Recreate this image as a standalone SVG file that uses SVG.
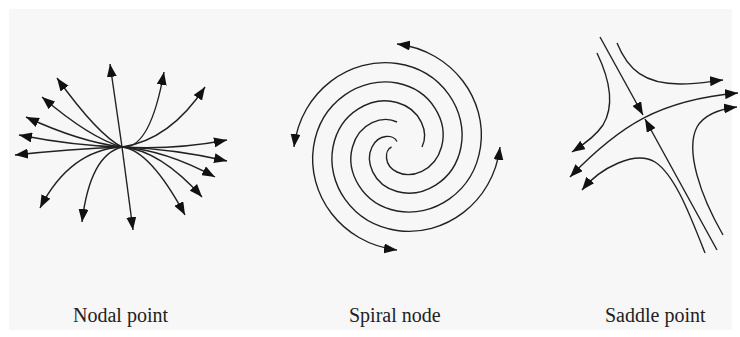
<svg xmlns="http://www.w3.org/2000/svg" width="740" height="337" viewBox="0 0 740 337">
<style>
.c{fill:none;stroke:#222;stroke-width:1.4;marker-end:url(#ah)}
.t{font-family:"Liberation Serif","Times New Roman",serif;font-size:20px;fill:#222}
</style>
<defs>
<marker id="ah" markerUnits="userSpaceOnUse" markerWidth="14" markerHeight="10" refX="13" refY="5" orient="auto"><path d="M0,0 L13,5 L0,10 z" fill="#111"/></marker>
<marker id="ahs" markerUnits="userSpaceOnUse" markerWidth="14" markerHeight="10" refX="13" refY="5" orient="auto-start-reverse"><path d="M0,0 L13,5 L0,10 z" fill="#111"/></marker>
</defs>
<rect width="740" height="337" fill="#fff"/>
<rect x="9" y="9" width="723" height="321" fill="#f7f7f7"/>
<g id="nodal">
<path class="c" d="M122,147 L110,64"/>
<path class="c" d="M122,147 L133,230"/>
<path class="c" d="M122,147 Q98,135 57,78"/>
<path class="c" d="M122,147 Q90,138 42,97"/>
<path class="c" d="M122,147 Q80,142 26,117"/>
<path class="c" d="M122,147 Q75,146 19,135"/>
<path class="c" d="M122,147 Q70,149 15,155"/>
<path class="c" d="M122,147 Q150,150 164,72"/>
<path class="c" d="M122,147 Q170,140 205,87"/>
<path class="c" d="M122,147 Q175,150 227,140"/>
<path class="c" d="M122,147 Q175,149 227,161"/>
<path class="c" d="M122,147 Q165,150 215,177"/>
<path class="c" d="M122,147 Q160,150 202,197"/>
<path class="c" d="M122,147 Q150,150 185,215"/>
<path class="c" d="M122,147 Q90,155 82,222"/>
<path class="c" d="M122,147 Q70,150 40,208"/>
</g>
<g id="spiral">
<path class="c" d="M397,141.5 C393.96,134.65 378.85,133.19 372,147 C365.15,160.81 372.42,184.65 397,191.5 C421.58,198.35 454.15,182.35 461,147 C467.85,111.65 443.12,70.35 397,63.5 C350.88,56.65 300.85,90.11 294,147"/>
<path class="c" d="M391.5,147 C384.65,150.04 383.19,165.15 397,172 C410.81,178.85 434.65,171.58 441.5,147 C448.35,122.42 432.35,89.85 397,83 C361.65,76.15 320.35,100.88 313.5,147 C306.65,193.12 340.11,243.15 397,250"/>
<path class="c" d="M422,147 C428.85,133.19 421.58,109.35 397,102.5 C372.42,95.65 339.85,111.65 333,147 C326.15,182.35 350.88,223.65 397,230.5 C443.12,237.35 493.15,203.89 500,147"/>
<path class="c" d="M397,122 C383.19,115.15 359.35,122.42 352.5,147 C345.65,171.58 361.65,204.15 397,211 C432.35,217.85 473.65,193.12 480.5,147 C487.35,100.88 453.89,50.85 397,44"/>
</g>
<g id="saddle">
<path class="c" d="M600,37 L643,115"/>
<path class="c" d="M717,250 L645,119"/>
<path class="c" style="marker-start:url(#ahs)" d="M570,177 C620,125 660,100 738,93"/>
<path class="c" d="M617,43 C628,70 645,84 680,84 C700,84 712,81 723,80"/>
<path class="c" d="M597,53 C610,80 615,105 603,125 C595,137 583,145 572,152"/>
<path class="c" d="M723,235 C700,195 685,150 697,127 C704,115 720,109 737,107"/>
<path class="c" d="M705,253 C690,215 675,175 655,162 C635,150 600,168 582,190"/>
</g>
<g id="labels">
<text class="t" x="73" y="322">Nodal point</text>
<text class="t" x="349" y="322">Spiral node</text>
<text class="t" x="605" y="322">Saddle point</text>
</g>
</svg>
